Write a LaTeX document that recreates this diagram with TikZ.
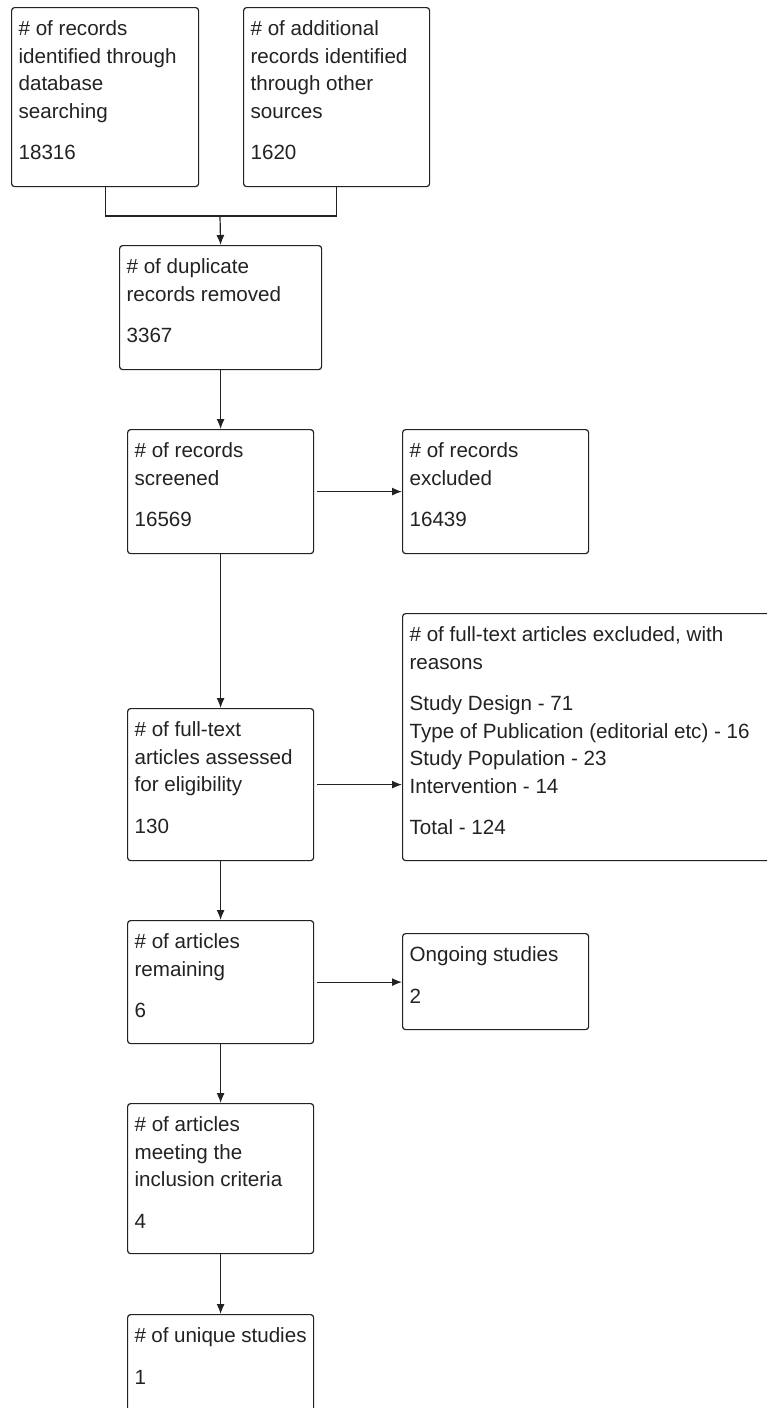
\documentclass[tikz,border=0pt]{standalone}
\usepackage{fontspec}
\setmainfont{Liberation Sans}
\usetikzlibrary{arrows.meta}
\definecolor{ink}{RGB}{34,34,34}
% box text: width, height, lines (top aligned)
\newcommand{\stagetext}[3]{\parbox[t][\dimexpr#2-8.8pt][t]{\dimexpr#1-7pt}{\strut#3}}

\begin{document}
\begin{tikzpicture}[x=0.5pt,y=-0.5pt,stage/.style={draw=ink,line width=0.6pt,rounded corners=1.5pt,inner xsep=3.5pt,inner ysep=4.4pt,anchor=north west,text=ink,font=\fontsize{10.3}{13.75}\selectfont},link/.style={draw=ink,line width=0.6pt},flow/.style={link,-{Latex[length=5pt,width=4pt]}}]
\def\bw{93pt};
\def\gap{7pt};

\useasboundingbox (0,0) rectangle (767,1408);
\clip (0,0) rectangle (767,1408);

\node[stage] (dbase) at (11,7) {\stagetext{93.5pt}{89.5pt}{\# of records\\identified through\\database\\searching\\[\gap]18316}};
\node[stage] (other) at (243,7) {\stagetext{\bw}{89.5pt}{\# of additional\\records identified\\through other\\sources\\[\gap]1620}};

\coordinate (join) at (220,216);
\draw[link] (dbase.south) |- (join) -| (other.south);

\node[stage] (dupl) at (119,245) {\stagetext{101pt}{62pt}{\# of duplicate\\records removed\\[\gap]3367}};
\draw[flow] (join) -- (dupl.north);

\node[stage] (screen) at (127,429) {\stagetext{\bw}{62pt}{\# of records\\screened\\[\gap]16569}};
\draw[flow] (dupl.south) -- (screen.north);
\node[stage] (excl) at (402,429) {\stagetext{\bw}{62pt}{\# of records\\excluded\\[\gap]16439}};
\draw[flow,shorten <=1.5pt] (screen.east) -- (excl.west);

\node[stage] (fulltext) at (127,708) {\stagetext{\bw}{76pt}{\# of full-text\\articles assessed\\for eligibility\\[\gap]130}};
\draw[flow] (screen.south) -- (fulltext.north);
\node[stage] (ftexcl) at (402,613) {\stagetext{190pt}{123.5pt}{\# of full-text articles excluded, with\\reasons\\[\gap]Study Design - 71\\Type of Publication (editorial etc) - 16\\Study Population - 23\\Intervention - 14\\[\gap]Total - 124}};
\draw[flow,shorten <=1.5pt] (fulltext.east) -- (fulltext.east -| ftexcl.west);

\node[stage] (remain) at (127,920) {\stagetext{\bw}{61.5pt}{\# of articles\\remaining\\[\gap]6}};
\draw[flow] (fulltext.south) -- (remain.north);
\node[stage] (ongoing) at (402,933) {\stagetext{\bw}{48pt}{Ongoing studies\\[\gap]2}};
\draw[flow,shorten <=1.5pt] (remain.east) -- (remain.east -| ongoing.west);

\node[stage] (incl) at (127,1103) {\stagetext{\bw}{75pt}{\# of articles\\meeting the\\inclusion criteria\\[\gap]4}};
\draw[flow] (remain.south) -- (incl.north);

\node[stage] (unique) at (127,1314) {\stagetext{\bw}{62pt}{\# of unique studies\\[\gap]1}};
\draw[flow] (incl.south) -- (unique.north);
\end{tikzpicture}
\end{document}
